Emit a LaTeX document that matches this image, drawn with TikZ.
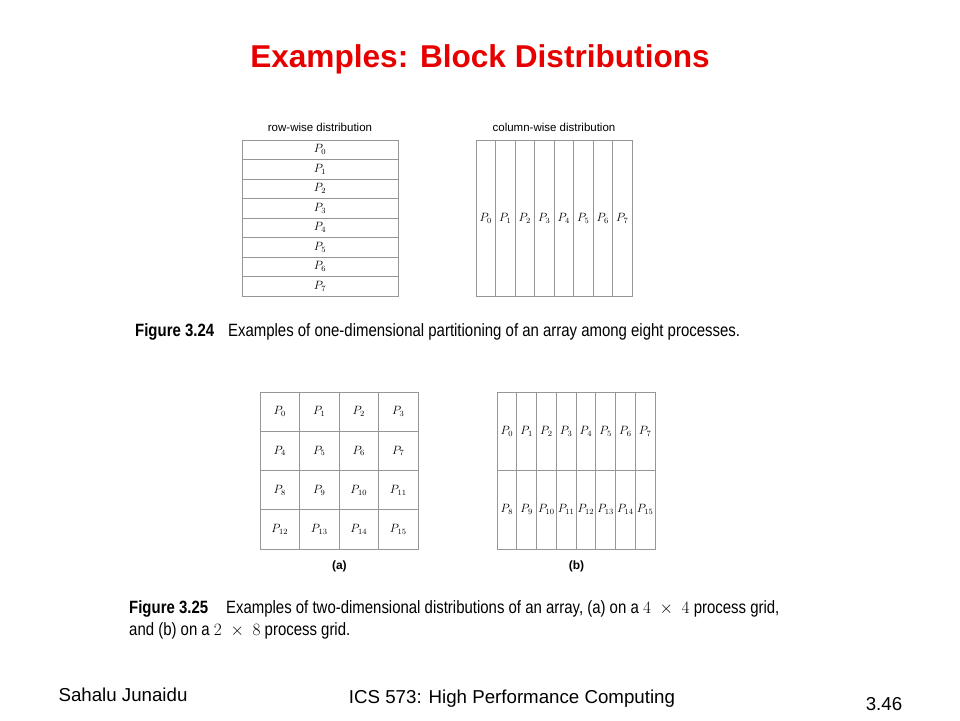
\documentclass[tikz,border=0pt]{standalone}
\usepackage{fontspec}
\setmainfont{Liberation Sans}
\newfontfamily\capfont[FakeStretch=0.84]{Liberation Sans}
\usetikzlibrary{positioning}
\definecolor{titlered}{RGB}{232,0,0}
\definecolor{gridgray}{RGB}{150,150,150}
\newcommand{\gridsize}[2]{{\fontsize{19}{22}\selectfont$#1\;\times\;#2$}}

\begin{document}
\begin{tikzpicture}[x=1pt,y=-1pt]
	\tikzstyle{cell} = [draw=gridgray, line width=0.8pt, rectangle, inner sep=0pt, font=\fontsize{11.5}{13}\selectfont]
	\tikzstyle{head} = [font=\fontsize{11.5}{13}\selectfont]
	\tikzstyle{sub} = [font=\fontsize{12}{14}\bfseries\selectfont]
	\tikzstyle{caption} = [anchor=base west, inner sep=0pt, font=\capfont\fontsize{17.8}{22}\selectfont]
	\tikzstyle{foot} = [anchor=base, inner sep=0pt, font=\fontsize{18.7}{22}\selectfont]
	
	\useasboundingbox (0,0) rectangle (960,720);
	\fill[white] (0,0) rectangle (960,720);
	
	\node [anchor=base, inner sep=0pt, text=titlered, font=\fontsize{31.6}{38}\bfseries\selectfont] (title) at (480,67) {Examples: Block Distributions};
	
	% row-wise
	\node [head] (rowlab) at (320,127) {row-wise distribution};
	\foreach \i in {0,...,7}
		\node [cell, minimum width=156pt, minimum height=19.5pt] (row\i) at (320,{149.75+19.5*\i}) {$P_{\i}$};
	
	% column-wise
	\node [head] (collab) at (554,127) {column-wise distribution};
	\foreach \i in {0,...,7}
		\node [cell, minimum width=19.5pt, minimum height=156pt] (col\i) at ({485.75+19.5*\i},218) {$P_{\i}$};
	
	\node [caption] (cap1) at (135,336) {\textbf{Figure 3.24}\hspace{14pt}Examples of one-dimensional partitioning of an array among eight processes.};
	
	% (a) 4 x 4
	\foreach \r in {0,...,3}
		\foreach \c in {0,...,3}{
			\pgfmathtruncatemacro{\p}{4*\r+\c}
			\node [cell, minimum width=39.5pt, minimum height=39.25pt] (a\p) at ({279.75+39.5*\c},{411.6+39.25*\r}) {$P_{\p}$};
		}
	\node [sub, below = 8pt of a13.south east] (alab) {(a)};
	
	% (b) 2 x 8
	\foreach \r in {0,...,1}
		\foreach \c in {0,...,7}{
			\pgfmathtruncatemacro{\p}{8*\r+\c}
			\node [cell, minimum width=19.75pt, minimum height=78.5pt] (b\p) at ({506.9+19.75*\c},{431.25+78.5*\r}) {$P_{\p}$};
		}
	\node [sub, below = 8pt of b11.south east] (blab) {(b)};
	
	\node [caption] (cap2) at (129,613) {\textbf{Figure 3.25}\hspace{18pt}Examples of two-dimensional distributions of an array, (a) on a \gridsize{4}{4} process grid,};
	\node [caption] (cap2b) at (129,635) {and (b) on a \gridsize{2}{8} process grid.};
	
	% footer
	\node [foot] (author) at (123,701) {Sahalu Junaidu};
	\node [foot] (course) at (512,703) {ICS 573: High Performance Computing};
	\node [foot] (page) at (884,710) {3.46};
\end{tikzpicture}
\end{document}
